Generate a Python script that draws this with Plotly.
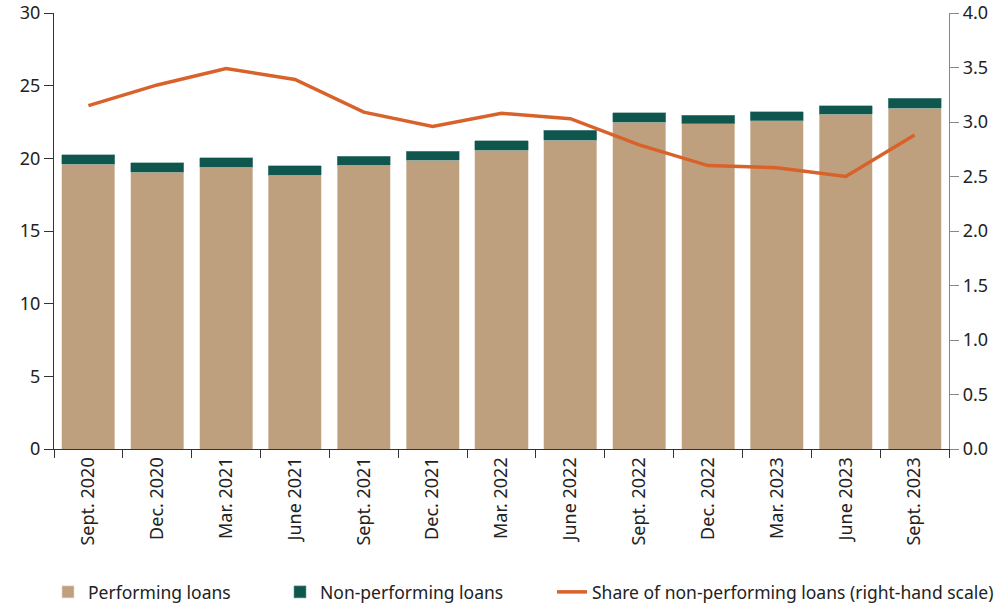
import plotly.graph_objects as go

categories = ["Sept. 2020", "Dec. 2020", "Mar. 2021", "June 2021", "Sept. 2021", "Dec. 2021",
              "Mar. 2022", "June 2022", "Sept. 2022", "Dec. 2022", "Mar. 2023", "June 2023", "Sept. 2023"]
performing = [19.61, 19.03, 19.38, 18.85, 19.54, 19.88, 20.54, 21.26, 22.49, 22.38, 22.58, 23.04, 23.45]
non_performing = [0.62, 0.65, 0.66, 0.64, 0.62, 0.60, 0.67, 0.66, 0.64, 0.57, 0.62, 0.57, 0.69]
npl_share = [3.15, 3.34, 3.49, 3.39, 3.09, 2.96, 3.08, 3.03, 2.79, 2.60, 2.58, 2.50, 2.88]

TAN = "#BEA07F"
GREEN = "#0F574E"
ORANGE = "#D9622B"
FONT = "Noto Sans"
FS = 18
LFS = 17.5

FW, FH = 1008, 606
PL, PR, PT, PB = 54, 949, 13, 449
W = PR - PL
H = PB - PT
def px(x):
    return (x - PL) / W
def py(y):
    return (PB - y) / H

fig = go.Figure()
fig.add_trace(go.Bar(x=categories, y=performing, name="Performing loans",
                     marker=dict(color=TAN, line=dict(color="#E6D8C8", width=0.6)),
                     legend="legend"))
fig.add_trace(go.Bar(x=categories, y=non_performing, name="Non-performing loans",
                     marker=dict(color=GREEN, line=dict(color="#6E9A93", width=0.6)),
                     legend="legend2"))
fig.add_trace(go.Scatter(x=categories, y=npl_share, name="Share of non-performing loans (right-hand scale)",
                         mode="lines", line=dict(color=ORANGE, width=3.5), yaxis="y2",
                         legend="legend3"))

legend_common = dict(orientation="h", yanchor="middle", y=py(592), xanchor="left",
                     font=dict(family=FONT, size=LFS, color="#222"), bgcolor="rgba(0,0,0,0)",
                     borderwidth=0, itemwidth=30)

fig.update_layout(
    width=FW, height=FH,
    margin=dict(l=PL, r=FW - PR, t=PT, b=FH - PB, autoexpand=False),
    paper_bgcolor="white", plot_bgcolor="white",
    barmode="stack", bargap=0.23,
    font=dict(family=FONT, size=FS, color="#222"),
    showlegend=True,
    legend=dict(**legend_common, x=px(48)),
    legend2=dict(**legend_common, x=px(280)),
    legend3=dict(**legend_common, x=px(552)),
    xaxis=dict(showline=True, linecolor="#333", linewidth=1.2, ticks="outside", ticklen=8,
               tickcolor="#333", tickson="boundaries", tickangle=-90, showgrid=False,
               automargin=False, ticklabeloverflow="allow",
               tickfont=dict(family=FONT, size=FS, color="#222")),
    yaxis=dict(range=[0, 30], dtick=5, showline=True, linecolor="#333", linewidth=1.2,
               ticks="outside", ticklen=9, tickcolor="#333", showgrid=False, zeroline=False,
               automargin=False, ticklabeloverflow="allow",
               tickfont=dict(family=FONT, size=FS, color="#222")),
    yaxis2=dict(range=[0, 4], dtick=0.5, tickformat=".1f", overlaying="y", side="right",
                showline=True, linecolor="#888", linewidth=1.2, ticks="outside", ticklen=9,
                tickcolor="#888", showgrid=False, zeroline=False, automargin=False,
                ticklabeloverflow="allow",
                tickfont=dict(family=FONT, size=FS, color="#222")),
)

fig.write_html("out.html", config={"displayModeBar": False},
               post_script="document.body.style.margin='0px';")
